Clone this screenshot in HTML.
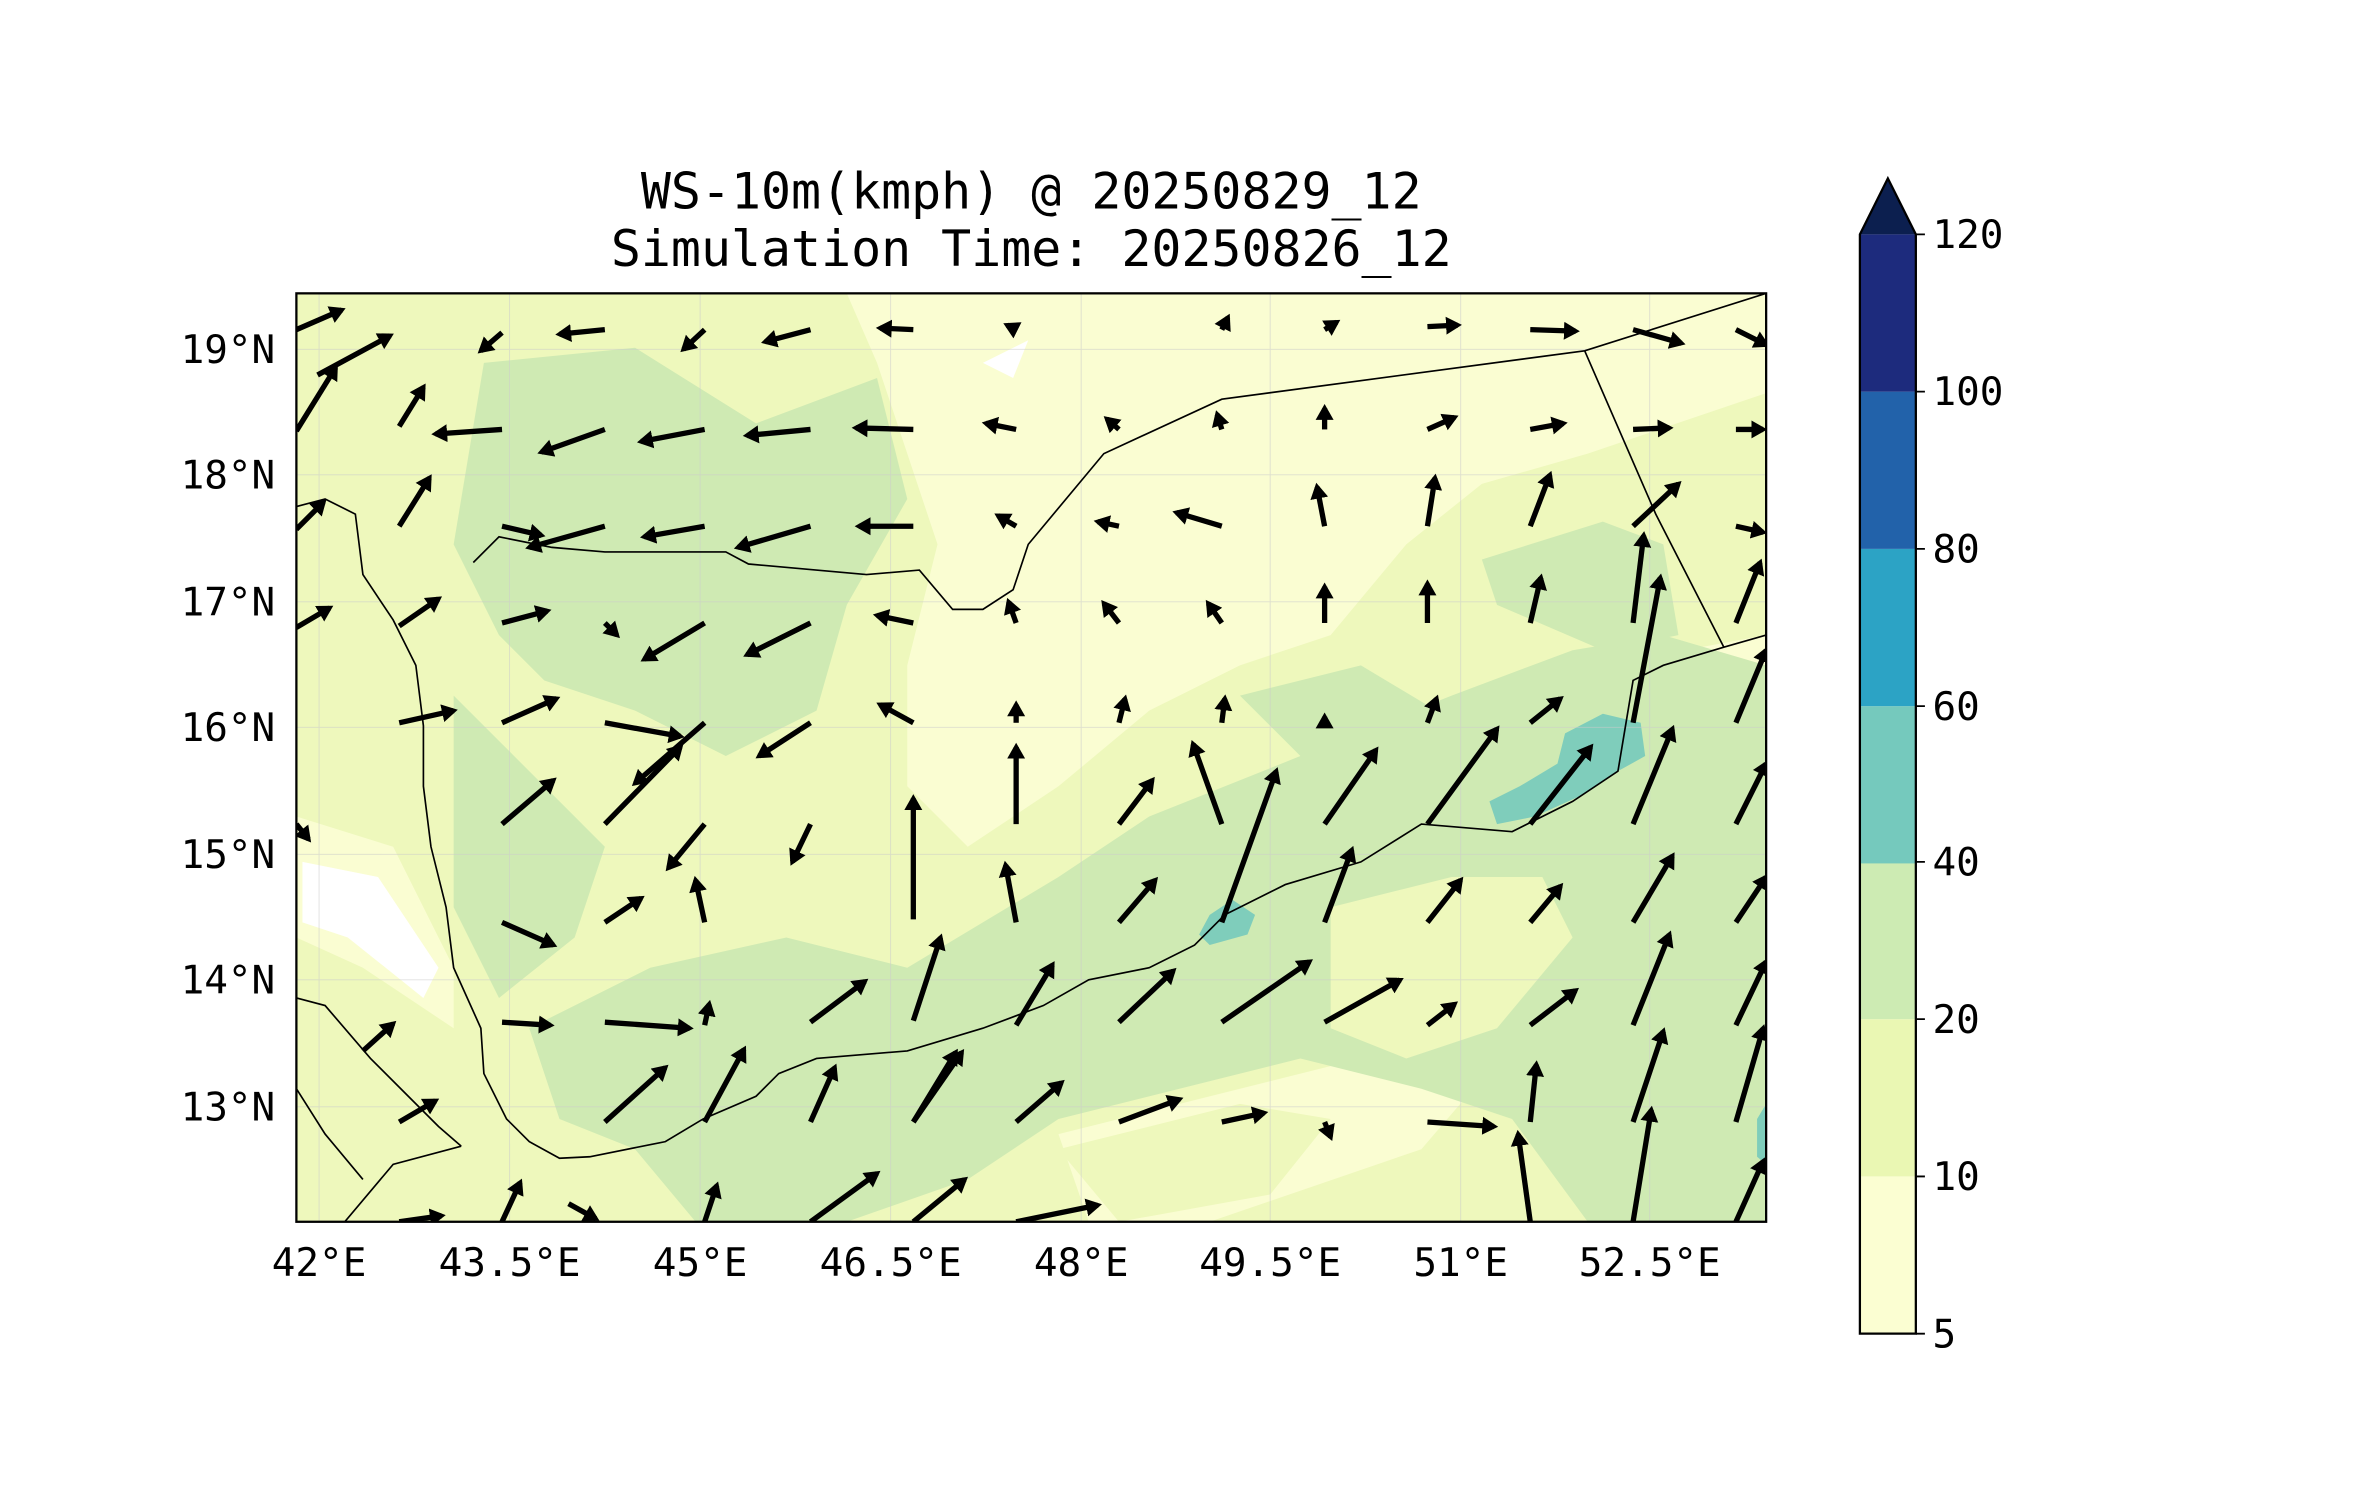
<!DOCTYPE html>
<html><head><meta charset="utf-8"><style>
html,body{margin:0;padding:0;background:#fff;}
svg{display:block}
text{font-family:"DejaVu Sans Mono","Liberation Mono",monospace;fill:#000}
</style></head><body>
<svg width="2371" height="1500" viewBox="0 0 1568 992" xmlns="http://www.w3.org/2000/svg">
<defs>
<marker id="ah" markerWidth="4" markerHeight="4" refX="2.2" refY="2" orient="auto" markerUnits="strokeWidth"><path d="M0,0.3 L3,2 L0,3.7 Z" fill="#000"/></marker>
<clipPath id="mc"><rect x="196" y="194" width="972" height="614"/></clipPath>
</defs>
<text x="682" y="138" font-size="33" text-anchor="middle">WS-10m(kmph) @ 20250829_12</text>
<text x="682" y="176" font-size="33" text-anchor="middle">Simulation Time: 20250826_12</text>
<g clip-path="url(#mc)">
<rect x="196" y="194" width="972" height="614" fill="#eef8bc"/>
<g fill="#fafdd2">
<path d="M560,194 L1168,194 L1168,260 L1050,300 L980,320 L930,360 L880,420 L820,440 L760,470 L700,520 L640,560 L600,520 L600,440 L620,360 L600,300 L580,240 Z"/>
<path d="M196,540 L260,560 L300,640 L300,680 L240,640 L196,620 Z"/>
<path d="M1060,440 L1168,420 L1168,470 L1090,470 Z"/>
<path d="M700,750 L900,700 L1000,690 L940,760 L800,808 L720,808 Z"/>
</g>
<g fill="#fff"><path d="M200,570 L250,580 L290,640 L280,660 L230,620 L200,610 Z"/><path d="M650,240 L680,225 L670,250 Z"/></g>
<g fill="#cfeab3">
<path d="M320,240 L420,230 L500,280 L580,250 L600,330 L560,400 L540,470 L480,500 L420,470 L360,450 L330,420 L300,360 Z"/>
<path d="M300,460 L360,520 L400,560 L380,620 L330,660 L300,600 Z"/>
<path d="M350,680 L430,640 L520,620 L600,640 L700,580 L760,540 L860,500 L960,460 L1040,430 L1100,420 L1168,440 L1168,808 L1050,808 L1000,740 L940,720 L860,700 L780,720 L700,740 L640,780 L560,808 L460,808 L420,760 L370,740 Z"/>
<path d="M980,370 L1060,345 L1100,360 L1110,420 L1060,430 L990,400 Z"/>
<path d="M820,460 L900,440 L950,470 L880,520 Z"/>
</g>
<g fill="#eef8bc"><path d="M880,600 L960,580 L1020,580 L1040,620 L990,680 L930,700 L880,680 Z"/><path d="M700,760 L820,730 L880,740 L840,790 L740,808 Z"/></g>
<g fill="#7fcdbb">
<path d="M1035,485 L1060,472 L1085,478 L1088,500 L1070,510 L1048,525 L1015,540 L990,545 L985,530 L1005,520 L1030,505 Z"/>
<path d="M800,605 L815,595 L830,605 L825,618 L800,625 L793,618 Z"/>
<path d="M1162,740 L1168,730 L1168,770 L1162,765 Z"/>
</g>
<g stroke="#ccc" stroke-width="0.6" opacity="0.6" fill="none">
<path d="M211,194V808M337,194V808M463,194V808M589,194V808M715,194V808M840,194V808M966,194V808M1091,194V808"/>
<path d="M196,231H1168M196,314H1168M196,398H1168M196,481H1168M196,565H1168M196,648H1168M196,732H1168"/>
</g>
<g fill="none" stroke="#000" stroke-width="1.1">
<path d="M313,372 L330,355 L365,362 L400,365 L480,365 L495,373 L573,380 L608,377 L630,403 L650,403 L670,390 L680,360 L730,300 L808,264 L1048,232 L1168,194"/>
<path d="M1048,232 L1095,340 L1140,428"/>
<path d="M1168,420 L1140,428 L1100,440 L1080,450 L1075,480 L1070,510 L1040,530 L1000,550 L940,545 L900,570 L850,585 L810,605 L790,625 L760,640 L720,648 L690,665 L650,680 L600,695 L540,700 L515,710 L500,725 L465,740 L440,755 L390,765 L370,766 L350,755 L335,740 L320,710 L318,680 L300,640 L295,600 L285,560 L280,520 L280,480 L275,440 L260,410 L240,380 L235,340 L215,330 L196,335"/>
<path d="M196,660 L215,665 L245,700 L270,725 L290,745 L305,758"/>
<path d="M228,808 L260,770 L305,758"/>
<path d="M196,720 L215,750 L240,780"/>
</g>
<g stroke="#000" stroke-width="3.5" fill="none" marker-end="url(#ah)">
<path d="M196,218L226,205"/><path d="M210,248L258,222"/><path d="M332,220L318,232"/><path d="M400,218L370,221"/><path d="M466,218L452,231"/><path d="M536,218L506,226"/><path d="M604,218L582,217"/><path d="M672,218L666,215"/><path d="M808,218L812,210"/><path d="M876,218L884,213"/><path d="M944,216L964,215"/><path d="M1012,218L1042,219"/><path d="M1080,218L1112,227"/><path d="M1148,218L1168,228"/>
<path d="M196,285L222,243"/><path d="M264,282L280,256"/><path d="M332,284L288,287"/><path d="M400,284L358,299"/><path d="M466,284L424,292"/><path d="M536,284L494,288"/><path d="M604,284L566,283"/><path d="M672,284L652,280"/><path d="M740,284L732,277"/><path d="M808,284L805,274"/><path d="M876,284L876,270"/><path d="M944,284L962,276"/><path d="M1012,284L1034,280"/><path d="M1080,284L1104,283"/><path d="M1148,284L1166,284"/>
<path d="M196,350L214,332"/><path d="M264,348L284,316"/><path d="M332,348L358,354"/><path d="M400,348L350,362"/><path d="M466,348L426,355"/><path d="M536,348L488,362"/><path d="M604,348L568,348"/><path d="M672,348L660,341"/><path d="M740,348L726,345"/><path d="M808,348L778,339"/><path d="M876,348L871,322"/><path d="M944,348L949,316"/><path d="M1012,348L1025,314"/><path d="M1080,348L1110,320"/><path d="M1148,348L1166,352"/>
<path d="M196,415L218,402"/><path d="M264,414L290,396"/><path d="M332,412L362,404"/><path d="M400,412L408,420"/><path d="M466,412L426,436"/><path d="M536,412L494,433"/><path d="M604,412L580,407"/><path d="M672,412L667,398"/><path d="M740,412L730,399"/><path d="M808,412L799,399"/><path d="M876,412L876,388"/><path d="M944,412L944,386"/><path d="M1012,412L1019,382"/><path d="M1080,412L1087,354"/><path d="M1148,412L1164,372"/>
<path d="M264,478L300,470"/><path d="M332,478L368,462"/><path d="M400,478L450,487"/><path d="M466,478L420,518"/><path d="M536,478L502,500"/><path d="M604,478L582,466"/><path d="M672,478L672,466"/><path d="M740,478L744,462"/><path d="M808,478L810,462"/><path d="M876,478L876,474"/><path d="M944,478L950,462"/><path d="M1012,478L1032,462"/><path d="M1080,478L1098,382"/><path d="M1148,478L1168,430"/>
<path d="M332,545L366,516"/><path d="M400,545L450,494"/><path d="M466,545L442,574"/><path d="M536,545L524,570"/><path d="M604,608L604,528"/><path d="M672,545L672,494"/><path d="M740,545L762,516"/><path d="M808,545L789,492"/><path d="M876,545L910,496"/><path d="M944,545L990,482"/><path d="M1012,545L1052,494"/><path d="M1080,545L1106,482"/><path d="M1148,545L1168,505"/><path d="M196,545L204,555"/>
<path d="M332,610L366,625"/><path d="M400,610L424,594"/><path d="M466,610L460,582"/><path d="M604,675L622,620"/><path d="M672,610L665,572"/><path d="M740,610L764,582"/><path d="M808,610L844,510"/><path d="M876,610L894,562"/><path d="M944,610L966,582"/><path d="M1012,610L1032,586"/><path d="M1080,610L1106,566"/><path d="M1148,610L1168,580"/>
<path d="M240,695L260,677"/><path d="M332,676L364,678"/><path d="M400,676L456,680"/><path d="M466,678L469,664"/><path d="M536,676L572,649"/><path d="M604,742L632,696"/><path d="M672,678L696,638"/><path d="M740,676L776,642"/><path d="M808,676L866,636"/><path d="M876,676L926,648"/><path d="M944,678L962,664"/><path d="M1012,678L1042,655"/><path d="M1080,678L1104,618"/><path d="M1148,678L1168,636"/>
<path d="M264,742L288,728"/><path d="M400,742L440,706"/><path d="M466,742L492,694"/><path d="M536,742L552,706"/><path d="M604,742L636,696"/><path d="M672,742L702,716"/><path d="M740,742L780,727"/><path d="M808,742L836,736"/><path d="M876,742L880,752"/><path d="M944,742L988,745"/><path d="M1012,742L1016,704"/><path d="M1080,742L1100,682"/><path d="M1148,742L1166,680"/>
<path d="M264,808L292,804"/><path d="M332,808L344,782"/><path d="M376,796L394,806"/><path d="M466,808L474,784"/><path d="M536,808L580,776"/><path d="M604,808L638,780"/><path d="M672,808L726,797"/><path d="M1012,808L1004,750"/><path d="M1080,808L1092,734"/><path d="M1148,808L1166,768"/>
</g>
</g>
<rect x="196" y="194" width="972" height="614" fill="none" stroke="#000" stroke-width="1.5"/>
<g font-size="26">
<text x="182" y="240" text-anchor="end">19°N</text><text x="182" y="323" text-anchor="end">18°N</text><text x="182" y="407" text-anchor="end">17°N</text><text x="182" y="490" text-anchor="end">16°N</text><text x="182" y="574" text-anchor="end">15°N</text><text x="182" y="657" text-anchor="end">14°N</text><text x="182" y="741" text-anchor="end">13°N</text>
<g text-anchor="middle"><text x="211" y="844">42°E</text><text x="337" y="844">43.5°E</text><text x="463" y="844">45°E</text><text x="589" y="844">46.5°E</text><text x="715" y="844">48°E</text><text x="840" y="844">49.5°E</text><text x="966" y="844">51°E</text><text x="1091" y="844">52.5°E</text></g>
</g>
<g stroke="none">
<rect x="1230" y="778" width="37" height="104" fill="#fbfed2"/>
<rect x="1230" y="674" width="37" height="104" fill="#eaf7b3"/>
<rect x="1230" y="570" width="37" height="104" fill="#cdebb3"/>
<rect x="1230" y="467" width="37" height="104" fill="#75c9bd"/>
<rect x="1230" y="363" width="37" height="104" fill="#2ca3c5"/>
<rect x="1230" y="259" width="37" height="104" fill="#2262aa"/>
<rect x="1230" y="155" width="37" height="104" fill="#1d2b7d"/>
<path d="M1230,155 L1248.5,118 L1267,155 Z" fill="#0c1f4f"/>
</g>
<path d="M1230,882 L1230,155 L1248.5,118 L1267,155 L1267,882 Z" fill="none" stroke="#000" stroke-width="1.5"/>
<g stroke="#000" stroke-width="1.2"><path d="M1267,882h6M1267,778h6M1267,674h6M1267,570h6M1267,467h6M1267,363h6M1267,259h6M1267,155h6"/></g>
<g font-size="26">
<text x="1278" y="891">5</text><text x="1278" y="787">10</text><text x="1278" y="683">20</text><text x="1278" y="579">40</text><text x="1278" y="476">60</text><text x="1278" y="372">80</text><text x="1278" y="268">100</text><text x="1278" y="164">120</text>
</g>
</svg>
</body></html>
